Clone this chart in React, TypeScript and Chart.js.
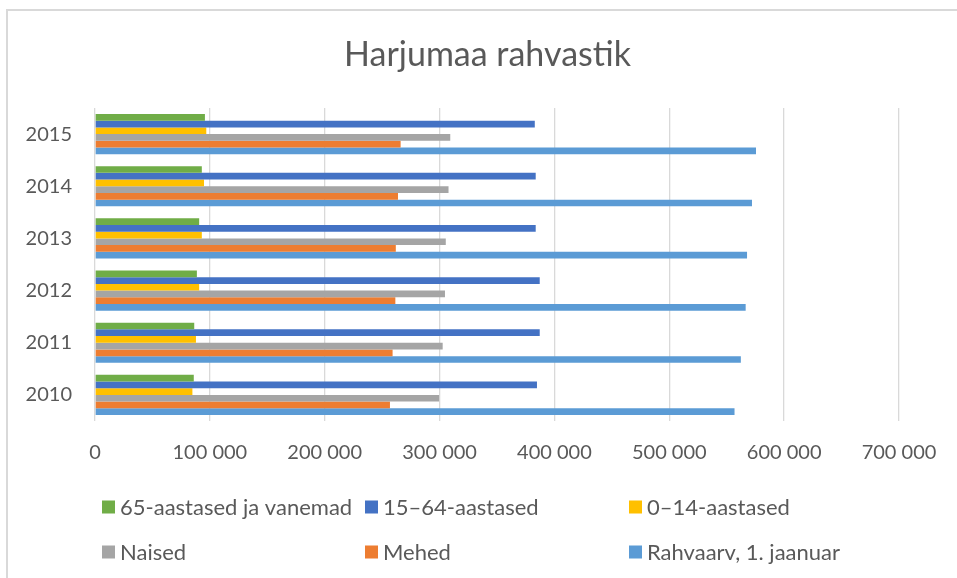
import React, { useEffect, useRef } from "react";
import { Chart, registerables } from "chart.js";

Chart.register(...registerables);

const TITLE = "Harjumaa rahvastik";
const years = ["2010", "2011", "2012", "2013", "2014", "2015"];
const seriesNames = [
  "65-aastased ja vanemad",
  "15–64-aastased",
  "0–14-aastased",
  "Naised",
  "Mehed",
  "Rahvaarv, 1. jaanuar",
];
const age65plus = [86000, 86400, 88700, 90700, 93000, 95700];
const age15to64 = [384800, 387200, 387200, 383700, 383700, 382900];
const age0to14 = [84800, 87900, 90700, 93000, 94900, 96900];
const naised = [299600, 302700, 304700, 305400, 307800, 309300];
const mehed = [256800, 259100, 261500, 261900, 263800, 266100];
const rahvaarv = [556800, 562300, 566500, 567700, 572000, 575500];
const colors = ["#70AD47", "#4472C4", "#FFC000", "#A5A5A5", "#ED7D31", "#5B9BD5"];
const xMax = 700000;
const xStep = 100000;

const FONT = "Lato, 'Open Sans', sans-serif";
const TEXT = "#595959";

function fmt(v: number): string {
  return String(Math.round(v)).replace(/\B(?=(\d{3})+(?!\d))/g, " ");
}

const titleLegendPlugin = {
  id: "titleLegend",
  afterDraw(chart: any) {
    const ctx = chart.ctx;
    ctx.save();
    ctx.fillStyle = TEXT;
    ctx.font = `34px ${FONT}`;
    ctx.textAlign = "center";
    ctx.textBaseline = "middle";
    ctx.fillText(TITLE, 487.5, 55);

    const cols = [102, 365, 629];
    const rows = [507, 552];
    ctx.font = `22px ${FONT}`;
    ctx.textAlign = "left";
    chart.data.datasets.forEach((ds: any, i: number) => {
      const x = cols[i % 3];
      const y = rows[Math.floor(i / 3)];
      ctx.fillStyle = ds.backgroundColor;
      ctx.fillRect(x, y - 6.5, 13, 13);
      ctx.fillStyle = TEXT;
      ctx.fillText(ds.label, x + 18, y + 1);
    });
    ctx.restore();
  },
};

export default function App() {
  const ref = useRef<HTMLCanvasElement | null>(null);
  useEffect(() => {
    if (!ref.current) return;
    const values = [age65plus, age15to64, age0to14, naised, mehed, rahvaarv];
    const chart = new Chart(ref.current, {
      type: "bar",
      data: {
        labels: years,
        datasets: values.map((d, i) => ({
          label: seriesNames[i],
          data: d,
          backgroundColor: colors[i],
          borderWidth: 0,
          categoryPercentage: 0.77,
          barPercentage: 1.0,
        })),
      },
      options: {
        indexAxis: "y",
        responsive: false,
        animation: false,
        layout: { padding: { top: 108, left: 0, right: 58, bottom: 97 } },
        plugins: {
          legend: { display: false },
          title: { display: false },
          tooltip: { enabled: false },
        },
        scales: {
          x: {
            min: 0,
            max: xMax,
            grid: { color: "#D9D9D9", lineWidth: 1.3, drawTicks: false },
            border: { display: false },
            ticks: {
              stepSize: xStep,
              padding: 20,
              color: TEXT,
              font: { family: FONT, size: 20 },
              callback: (v: any) => fmt(Number(v)),
            },
            afterFit: (s: any) => {
              s.height = 60;
            },
          },
          y: {
            reverse: true,
            grid: { display: false, drawTicks: false },
            border: { display: false },
            ticks: {
              padding: 23,
              color: TEXT,
              font: { family: FONT, size: 20 },
            },
            afterFit: (s: any) => {
              s.width = 95;
            },
          },
        },
      },
      plugins: [titleLegendPlugin],
    } as any);
    return () => chart.destroy();
  }, []);

  return (
    <div
      style={{
        position: "fixed",
        left: 0,
        top: 0,
        width: 957,
        height: 578,
        overflow: "hidden",
        background: "#fff",
      }}
    >
      <div
        style={{
          position: "absolute",
          left: 6,
          top: 9,
          width: 1000,
          height: 700,
          border: "2px solid #D9D9D9",
          boxSizing: "border-box",
        }}
      />
      <canvas
        ref={ref}
        width={957}
        height={578}
        style={{ position: "absolute", left: 0, top: 0, width: 957, height: 578 }}
      />
    </div>
  );
}
